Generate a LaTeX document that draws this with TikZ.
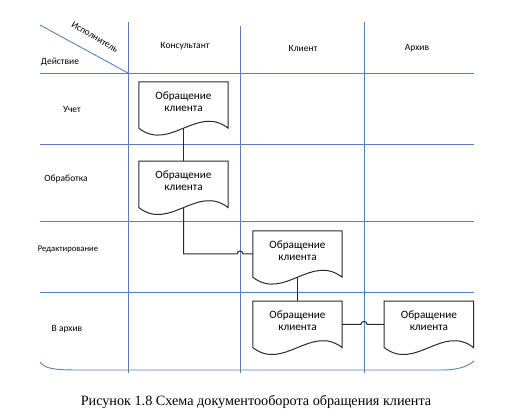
\documentclass[tikz,border=0pt]{standalone}
\usepackage{fontspec}
\setmainfont{Carlito}
\newfontfamily\capfont{Liberation Serif}
\usetikzlibrary{positioning}
\definecolor{gridblue}{RGB}{88,128,180}
\definecolor{docline}{RGB}{40,40,40}

\tikzset{
  gridline/.style={gridblue, line width=0.9pt},
  lbl/.style={font=\fontsize{9.5}{11}\selectfont},
  doc/.style={minimum width=89pt, minimum height=46pt, inner sep=0pt, align=center,
    text depth=7pt, font=\fontsize{11.2}{12}\selectfont},
  link/.style={docline, line width=1pt}
}
\newcommand\docoutline[1]{%
  \draw[docline, line width=1pt] (#1.south west) -- (#1.north west) -- (#1.north east) -- (#1.south east)
    .. controls +(-31pt,24pt) and +(31pt,-24pt) .. (#1.south west) -- cycle;}

\begin{document}
\begin{tikzpicture}[x=1pt, y=-1pt]
  \useasboundingbox (0,0) rectangle (506,419);

  \coordinate (va) at (128,0);
  \coordinate (vb) at (240,0);
  \coordinate (vc) at (364,0);

  \draw[gridline] (40,25) -- (128,73);
  \draw[gridline] (128,22) -- (128,373);
  \draw[gridline] (240,26) -- (240,373);
  \draw[gridline] (364,22) -- (364,373);
  \draw[gridline] (40,73) -- (474,73);
  \draw[gridline] (40,144) -- (474,144);
  \draw[gridline] (40,221) -- (474,221);
  \draw[gridline] (40,292) -- (474,292);
  \draw[gridline] (40,362) .. controls (45,369) and (55,370) .. (80,370) -- (440,370)
    .. controls (460,370) and (468,366) .. (474,361);

  \node[lbl, rotate=-31, inner sep=1pt] (isp) at (95,37) {Исполнитель};
  \node[lbl] (dej) at (60,62) {Действие};
  \node[lbl] (k1) at (185,46) {Консультант};
  \node[lbl] (k2) at (303,48) {Клиент};
  \node[lbl] (k3) at (417,48) {Архив};
  \node[lbl] (r1) at (72,109) {Учет};
  \node[lbl] (r2) at (66,179) {Обработка};
  \node[lbl, font=\fontsize{8.6}{10}\selectfont] (r3) at (68,249) {Редактирование};
  \node[lbl] (r4) at (67,329) {В архив};

  \node[doc] (d1) at (183.5,105) {Обращение\\клиента};
  \node[doc, below=33pt of d1] (d2) {Обращение\\клиента};
  \node[doc] (d3) at (297.5,254) {Обращение\\клиента};
  \node[doc, below=24pt of d3] (d4) {Обращение\\клиента};
  \node[doc, right=42pt of d4] (d5) {Обращение\\клиента};
  \docoutline{d1}
  \docoutline{d2}
  \docoutline{d3}
  \docoutline{d4}
  \docoutline{d5}

  \coordinate (h1) at (vb |- d3.west);
  \coordinate (h2) at (vc |- d4.east);

  \draw[link] (d1.south) -- (d2.north);
  \draw[link] (d2.south) |- ([xshift=-3pt]h1) arc[start angle=180, end angle=0, radius=3pt] -- (d3.west);
  \draw[link] (d3.south) -- (d4.north);
  \draw[link] (d4.east) -- ([xshift=-3pt]h2) arc[start angle=180, end angle=0, radius=3pt] -- (d5.west);

  \node[font=\capfont\fontsize{14.2}{16}\selectfont] (cap) at (256,402) {Рисунок 1.8 Схема документооборота обращения клиента};
\end{tikzpicture}
\end{document}
